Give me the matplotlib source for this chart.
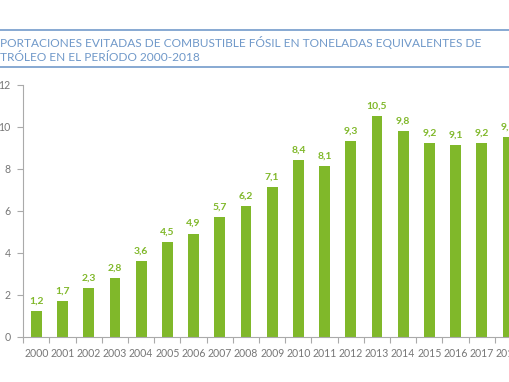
import matplotlib
matplotlib.use("Agg")
import matplotlib.pyplot as plt
from matplotlib.lines import Line2D
import numpy as np

years = [str(y) for y in range(2000, 2019)]
values = [1.2, 1.7, 2.3, 2.8, 3.6, 4.5, 4.9, 5.7, 6.2, 7.1, 8.4, 8.1, 9.3, 10.5, 9.8, 9.2, 9.1, 9.2, 9.5]
labels = [f"{v:.1f}".replace(".", ",") for v in values]
yticks = [0, 2, 4, 6, 8, 10, 12]
title_lines = ["PORTACIONES EVITADAS DE COMBUSTIBLE FÓSIL EN TONELADAS EQUIVALENTES DE",
               "TRÓLEO EN EL PERÍODO 2000-2018"]

green = "#80b82a"
blue = "#6f98c9"
gray = "#777777"

plt.rcParams['font.family'] = ['Lato', 'DejaVu Sans']

W, H = 510, 382
fig = plt.figure(figsize=(W / 100, H / 100), dpi=100)

# axes geometry in pixels
left_px = 23.3
step_px = 26.2
n = len(years)
ax_w = n * step_px
y0_px, y12_px = 336.5, 84.5
ax = fig.add_axes([left_px / W, (H - y0_px) / H, ax_w / W, (y0_px - y12_px) / H])

x = np.arange(n)
ax.bar(x, values, width=0.41, color=green, zorder=2)
for xi, v, lab in zip(x, values, labels):
    ax.annotate(lab, (xi, v), xytext=(0, 4), textcoords="offset points",
                ha="center", va="bottom", color=green, fontsize=7.5, fontweight="bold",
                annotation_clip=False)

ax.set_xlim(-0.5, n - 0.5)
ax.set_ylim(0, 12)
ax.set_yticks(yticks)
ax.set_yticklabels([str(t) for t in yticks])
ax.set_xticks(x)
ax.set_xticklabels(years)
ax.set_xticks(np.arange(-0.5, n, 1), minor=True)
ax.tick_params(axis="x", which="major", length=0, pad=8, labelsize=7.6, labelcolor=gray)
ax.tick_params(axis="x", which="minor", length=4, width=0.8, color="#aaaaaa", direction="out")
ax.tick_params(axis="y", length=4, width=0.8, color="#aaaaaa", direction="out",
               labelsize=7.6, labelcolor=gray, pad=5)
for s in ["top", "right"]:
    ax.spines[s].set_visible(False)
for s in ["left", "bottom"]:
    ax.spines[s].set_color("#aaaaaa")
    ax.spines[s].set_linewidth(0.8)

# title band
for ypx in (30, 67):
    fig.add_artist(Line2D([0, 1], [1 - ypx / H, 1 - ypx / H], color="#7ea3cf", lw=1.3,
                          transform=fig.transFigure))
fig.text(0.0, 1 - 42.5 / H, title_lines[0], ha="left", va="center", color=blue, fontsize=8.6)
fig.text(0.0, 1 - 57.5 / H, title_lines[1], ha="left", va="center", color=blue, fontsize=8.6)

fig.savefig("out.png", dpi=100)
